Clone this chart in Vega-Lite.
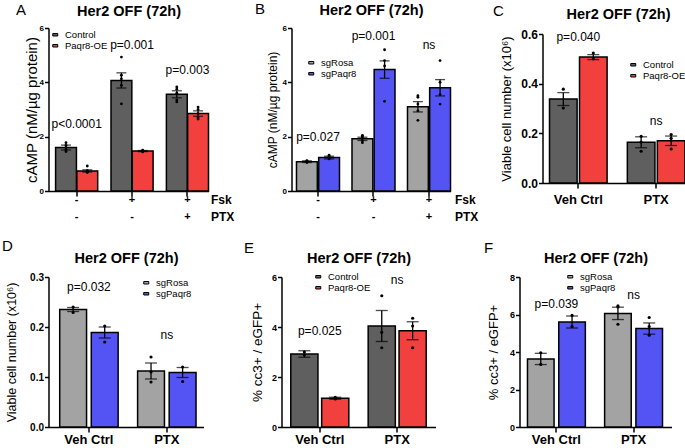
{
"$schema": "https://vega.github.io/schema/vega-lite/v6.json",
"background": "white",
"padding": {"left": 1.5, "top": 1, "right": 0, "bottom": 0},
"datasets": {
"bars": [
{"panel":"A","group":"-|-","series":"Control","value":1.6,"sem":0.09},
{"panel":"A","group":"-|-","series":"Paqr8-OE","value":0.74,"sem":0.04},
{"panel":"A","group":"+|-","series":"Control","value":4.07,"sem":0.28},
{"panel":"A","group":"+|-","series":"Paqr8-OE","value":1.47,"sem":0.02},
{"panel":"A","group":"+|+","series":"Control","value":3.56,"sem":0.13},
{"panel":"A","group":"+|+","series":"Paqr8-OE","value":2.85,"sem":0.1},
{"panel":"B","group":"-|-","series":"sgRosa","value":1.08,"sem":0.03},
{"panel":"B","group":"-|-","series":"sgPaqr8","value":1.23,"sem":0.05},
{"panel":"B","group":"+|-","series":"sgRosa","value":1.92,"sem":0.06},
{"panel":"B","group":"+|-","series":"sgPaqr8","value":4.47,"sem":0.32},
{"panel":"B","group":"+|+","series":"sgRosa","value":3.1,"sem":0.19},
{"panel":"B","group":"+|+","series":"sgPaqr8","value":3.8,"sem":0.3},
{"panel":"C","group":"Veh Ctrl","series":"Control","value":0.338,"sem":0.026},
{"panel":"C","group":"Veh Ctrl","series":"Paqr8-OE","value":0.507,"sem":0.01},
{"panel":"C","group":"PTX","series":"Control","value":0.164,"sem":0.022},
{"panel":"C","group":"PTX","series":"Paqr8-OE","value":0.17,"sem":0.019},
{"panel":"D","group":"Veh Ctrl","series":"sgRosa","value":0.235,"sem":0.004},
{"panel":"D","group":"Veh Ctrl","series":"sgPaqr8","value":0.189,"sem":0.011},
{"panel":"D","group":"PTX","series":"sgRosa","value":0.112,"sem":0.016},
{"panel":"D","group":"PTX","series":"sgPaqr8","value":0.109,"sem":0.01},
{"panel":"E","group":"Veh Ctrl","series":"Control","value":2.92,"sem":0.13},
{"panel":"E","group":"Veh Ctrl","series":"Paqr8-OE","value":1.15,"sem":0.04},
{"panel":"E","group":"PTX","series":"Control","value":4.04,"sem":0.62},
{"panel":"E","group":"PTX","series":"Paqr8-OE","value":3.85,"sem":0.36},
{"panel":"F","group":"Veh Ctrl","series":"sgRosa","value":3.63,"sem":0.3},
{"panel":"F","group":"Veh Ctrl","series":"sgPaqr8","value":5.6,"sem":0.32},
{"panel":"F","group":"PTX","series":"sgRosa","value":6.06,"sem":0.33},
{"panel":"F","group":"PTX","series":"sgPaqr8","value":5.25,"sem":0.3}
],
"points": [
{"panel":"A","group":"-|-","series":"Control","value":1.45},
{"panel":"A","group":"-|-","series":"Control","value":1.52},
{"panel":"A","group":"-|-","series":"Control","value":1.6},
{"panel":"A","group":"-|-","series":"Control","value":1.68},
{"panel":"A","group":"-|-","series":"Control","value":1.78},
{"panel":"A","group":"-|-","series":"Paqr8-OE","value":0.68},
{"panel":"A","group":"-|-","series":"Paqr8-OE","value":0.7},
{"panel":"A","group":"-|-","series":"Paqr8-OE","value":0.72},
{"panel":"A","group":"-|-","series":"Paqr8-OE","value":0.75},
{"panel":"A","group":"-|-","series":"Paqr8-OE","value":0.92},
{"panel":"A","group":"+|-","series":"Control","value":4.93},
{"panel":"A","group":"+|-","series":"Control","value":4.26},
{"panel":"A","group":"+|-","series":"Control","value":4.13},
{"panel":"A","group":"+|-","series":"Control","value":3.89},
{"panel":"A","group":"+|-","series":"Control","value":3.21},
{"panel":"A","group":"+|-","series":"Paqr8-OE","value":1.44},
{"panel":"A","group":"+|-","series":"Paqr8-OE","value":1.46},
{"panel":"A","group":"+|-","series":"Paqr8-OE","value":1.48},
{"panel":"A","group":"+|-","series":"Paqr8-OE","value":1.5},
{"panel":"A","group":"+|+","series":"Control","value":3.83},
{"panel":"A","group":"+|+","series":"Control","value":3.75},
{"panel":"A","group":"+|+","series":"Control","value":3.6},
{"panel":"A","group":"+|+","series":"Control","value":3.35},
{"panel":"A","group":"+|+","series":"Control","value":3.28},
{"panel":"A","group":"+|+","series":"Paqr8-OE","value":3.09},
{"panel":"A","group":"+|+","series":"Paqr8-OE","value":3.0},
{"panel":"A","group":"+|+","series":"Paqr8-OE","value":2.85},
{"panel":"A","group":"+|+","series":"Paqr8-OE","value":2.7},
{"panel":"A","group":"+|+","series":"Paqr8-OE","value":2.65},
{"panel":"B","group":"-|-","series":"sgRosa","value":1.05},
{"panel":"B","group":"-|-","series":"sgRosa","value":1.07},
{"panel":"B","group":"-|-","series":"sgRosa","value":1.1},
{"panel":"B","group":"-|-","series":"sgRosa","value":1.12},
{"panel":"B","group":"-|-","series":"sgPaqr8","value":1.32},
{"panel":"B","group":"-|-","series":"sgPaqr8","value":1.26},
{"panel":"B","group":"-|-","series":"sgPaqr8","value":1.2},
{"panel":"B","group":"-|-","series":"sgPaqr8","value":1.18},
{"panel":"B","group":"+|-","series":"sgRosa","value":2.05},
{"panel":"B","group":"+|-","series":"sgRosa","value":2.0},
{"panel":"B","group":"+|-","series":"sgRosa","value":1.95},
{"panel":"B","group":"+|-","series":"sgRosa","value":1.85},
{"panel":"B","group":"+|-","series":"sgRosa","value":1.78},
{"panel":"B","group":"+|-","series":"sgPaqr8","value":5.2},
{"panel":"B","group":"+|-","series":"sgPaqr8","value":4.8},
{"panel":"B","group":"+|-","series":"sgPaqr8","value":4.6},
{"panel":"B","group":"+|-","series":"sgPaqr8","value":3.3},
{"panel":"B","group":"+|+","series":"sgRosa","value":3.51},
{"panel":"B","group":"+|+","series":"sgRosa","value":3.45},
{"panel":"B","group":"+|+","series":"sgRosa","value":3.2},
{"panel":"B","group":"+|+","series":"sgRosa","value":2.95},
{"panel":"B","group":"+|+","series":"sgRosa","value":2.6},
{"panel":"B","group":"+|+","series":"sgPaqr8","value":4.8},
{"panel":"B","group":"+|+","series":"sgPaqr8","value":4.0},
{"panel":"B","group":"+|+","series":"sgPaqr8","value":3.55},
{"panel":"B","group":"+|+","series":"sgPaqr8","value":3.2},
{"panel":"C","group":"Veh Ctrl","series":"Control","value":0.378},
{"panel":"C","group":"Veh Ctrl","series":"Control","value":0.302},
{"panel":"C","group":"Veh Ctrl","series":"Paqr8-OE","value":0.523},
{"panel":"C","group":"Veh Ctrl","series":"Paqr8-OE","value":0.5},
{"panel":"C","group":"PTX","series":"Control","value":0.188},
{"panel":"C","group":"PTX","series":"Control","value":0.165},
{"panel":"C","group":"PTX","series":"Control","value":0.128},
{"panel":"C","group":"PTX","series":"Paqr8-OE","value":0.195},
{"panel":"C","group":"PTX","series":"Paqr8-OE","value":0.18},
{"panel":"C","group":"PTX","series":"Paqr8-OE","value":0.137},
{"panel":"D","group":"Veh Ctrl","series":"sgRosa","value":0.24},
{"panel":"D","group":"Veh Ctrl","series":"sgRosa","value":0.229},
{"panel":"D","group":"Veh Ctrl","series":"sgPaqr8","value":0.202},
{"panel":"D","group":"Veh Ctrl","series":"sgPaqr8","value":0.17},
{"panel":"D","group":"PTX","series":"sgRosa","value":0.14},
{"panel":"D","group":"PTX","series":"sgRosa","value":0.11},
{"panel":"D","group":"PTX","series":"sgRosa","value":0.09},
{"panel":"D","group":"PTX","series":"sgPaqr8","value":0.12},
{"panel":"D","group":"PTX","series":"sgPaqr8","value":0.091},
{"panel":"E","group":"Veh Ctrl","series":"Control","value":3.0},
{"panel":"E","group":"Veh Ctrl","series":"Control","value":2.88},
{"panel":"E","group":"Veh Ctrl","series":"Paqr8-OE","value":1.19},
{"panel":"E","group":"Veh Ctrl","series":"Paqr8-OE","value":1.12},
{"panel":"E","group":"PTX","series":"Control","value":5.25},
{"panel":"E","group":"PTX","series":"Control","value":3.79},
{"panel":"E","group":"PTX","series":"Control","value":3.17},
{"panel":"E","group":"PTX","series":"Paqr8-OE","value":4.35},
{"panel":"E","group":"PTX","series":"Paqr8-OE","value":4.04},
{"panel":"E","group":"PTX","series":"Paqr8-OE","value":3.17},
{"panel":"F","group":"Veh Ctrl","series":"sgRosa","value":3.96},
{"panel":"F","group":"Veh Ctrl","series":"sgRosa","value":3.34},
{"panel":"F","group":"Veh Ctrl","series":"sgPaqr8","value":5.95},
{"panel":"F","group":"Veh Ctrl","series":"sgPaqr8","value":5.37},
{"panel":"F","group":"PTX","series":"sgRosa","value":6.46},
{"panel":"F","group":"PTX","series":"sgRosa","value":6.4},
{"panel":"F","group":"PTX","series":"sgRosa","value":5.48},
{"panel":"F","group":"PTX","series":"sgPaqr8","value":5.84},
{"panel":"F","group":"PTX","series":"sgPaqr8","value":5.36},
{"panel":"F","group":"PTX","series":"sgPaqr8","value":4.9}
],
"notes": [
{"panel":"A","group":"-|-","label":"p<0.0001","value":2.45},
{"panel":"A","group":"+|-","label":"p=0.001","value":5.36},
{"panel":"A","group":"+|+","label":"p=0.003","value":4.44},
{"panel":"B","group":"-|-","label":"p=0.027","value":1.98},
{"panel":"B","group":"+|-","label":"p=0.001","value":5.69},
{"panel":"B","group":"+|+","label":"ns","value":5.39},
{"panel":"C","group":"Veh Ctrl","label":"p=0.040","value":0.588},
{"panel":"C","group":"PTX","label":"ns","value":0.248},
{"panel":"D","group":"Veh Ctrl","label":"p=0.032","value":0.281},
{"panel":"D","group":"PTX","label":"ns","value":0.185},
{"panel":"E","group":"Veh Ctrl","label":"p=0.025","value":3.84},
{"panel":"E","group":"PTX","label":"ns","value":5.89},
{"panel":"F","group":"Veh Ctrl","label":"p=0.039","value":6.57},
{"panel":"F","group":"PTX","label":"ns","value":7.05}
]
},
"config": {
"font": "Liberation Sans",
"view": {"stroke": null},
"axis": {"domainColor": "black", "domainWidth": 1.5, "tickColor": "black", "tickWidth": 1.5, "tickSize": 4, "labelColor": "black", "labelFont": "Liberation Sans", "labelFontWeight": "bold", "labelFontSize": 11, "labelPadding": 1, "titleFont": "Liberation Sans", "titleFontWeight": "normal", "titleFontSize": 14, "titleColor": "black", "grid": false},
"axisX": {"labelAngle": 0, "labelFontSize": 13, "tickSize": 5},
"legend": {"orient": "none", "title": null, "symbolType": "M-1,-0.5H1V0.5H-1Z", "symbolSize": 25, "symbolStrokeColor": "black", "symbolStrokeWidth": 1, "symbolOpacity": 1, "labelFont": "Liberation Sans", "labelFontSize": 9.5, "labelColor": "black", "rowPadding": 0, "labelOffset": 5},
"text": {"font": "Liberation Sans", "fontSize": 12, "color": "black"}
},
"resolve": {"scale": {"color": "independent", "xOffset": "independent", "x": "independent", "y": "independent"}, "legend": {"color": "independent"}},
"spacing": 15,
"vconcat": [
{
"resolve": {"scale": {"color": "independent", "xOffset": "independent", "x": "independent", "y": "independent"}, "legend": {"color": "independent"}},
"spacing": 20,
"hconcat": [
{
"width": 160, "height": 163,
"resolve": {"axis": {"x": "independent", "y": "independent"}},
"encoding": {
"x": {"field": "group", "type": "nominal", "sort": ["-|-", "+|-", "+|+"], "scale": {"paddingInner": 0.24, "paddingOuter": 0.064, "align": 1}, "axis": null},
"y": {"field": "value", "type": "quantitative", "scale": {"domain": [0, 6], "nice": false}, "axis": null}
},
"layer": [
{"data": {"name": "bars"}, "transform": [{"filter": "datum.panel === 'A'"}], "mark": {"type": "bar", "stroke": "black", "strokeWidth": 1.5},
 "encoding": {
  "x": {"field": "group", "type": "nominal", "sort": ["-|-", "+|-", "+|+"], "scale": {"paddingInner": 0.24, "paddingOuter": 0.064, "align": 1}, "axis": {"orient": "bottom", "labelExpr": "split(datum.value, '|')", "labelLineHeight": 17, "labelFontSize": 11, "labelPadding": -2.5, "title": ["Fsk", "PTX"], "titleX": 162, "titleY": 3.4, "titleAlign": "left", "titleBaseline": "top", "titleAngle": 0, "titleFontWeight": "bold", "titleFontSize": 12, "titleLineHeight": 17}},
  "y": {"field": "value", "type": "quantitative", "scale": {"domain": [0, 6], "nice": false}, "axis": {"orient": "left", "values": [0, 2, 4, 6], "labelFontSize": 8, "title": "cAMP (nM/µg protein)", "titleFontSize": 15, "titlePadding": 0}},
  "xOffset": {"field": "series", "type": "nominal", "sort": ["Control", "Paqr8-OE"], "scale": {"paddingInner": 0.02}},
  "color": {"field": "series", "type": "nominal", "scale": {"domain": ["Control", "Paqr8-OE"], "range": ["#5f5f5f", "#f2403f"]}, "legend": {"orient": "top-left", "offset": 2, "padding": 0}}}},
{"data": {"name": "bars"}, "transform": [{"filter": "datum.panel === 'A'"}], "mark": {"type": "errorbar", "ticks": {"size": 10, "thickness": 1.3, "color": "black"}, "rule": {"strokeWidth": 1.3, "color": "black"}},
 "encoding": {"xOffset": {"field": "series", "type": "nominal", "sort": ["Control", "Paqr8-OE"], "scale": {"paddingInner": 0.02}}, "yError": {"field": "sem"}}},
{"data": {"name": "points"}, "transform": [{"filter": "datum.panel === 'A'"}], "mark": {"type": "point", "filled": true, "color": "black", "size": 8, "opacity": 1},
 "encoding": {"xOffset": {"field": "series", "type": "nominal", "sort": ["Control", "Paqr8-OE"], "scale": {"paddingInner": 0.02}}}},
{"data": {"name": "notes"}, "transform": [{"filter": "datum.panel === 'A'"}], "mark": {"type": "text"},
 "encoding": {
  "x": {"field": "group", "type": "nominal", "sort": ["-|-", "+|-", "+|+"], "scale": {"paddingInner": 0.24, "paddingOuter": 0.064, "align": 1}, "axis": {"orient": "top", "title": "Her2 OFF (72h)", "labels": false, "ticks": false, "domain": false, "titleFontSize": 14.5, "titleFontWeight": "bold", "titlePadding": 9.7}},
  "y": {"field": "value", "type": "quantitative", "scale": {"domain": [0, 6], "nice": false}, "axis": {"orient": "right", "title": "A", "labels": false, "ticks": false, "domain": false, "titleAngle": 0, "titleX": -193, "titleY": -14, "titleAlign": "left", "titleBaseline": "alphabetic", "titleFontSize": 15, "titleFontWeight": "normal"}},
  "text": {"field": "label"}}}
]
},
{
"resolve": {"scale": {"color": "independent", "xOffset": "independent", "x": "independent", "y": "independent"}, "legend": {"color": "independent"}},
"spacing": 14,
"hconcat": [
{
"width": 159, "height": 163,
"resolve": {"axis": {"x": "independent", "y": "independent"}},
"encoding": {
"x": {"field": "group", "type": "nominal", "sort": ["-|-", "+|-", "+|+"], "scale": {"paddingInner": 0.225, "paddingOuter": 0.045, "align": 1}, "axis": null},
"y": {"field": "value", "type": "quantitative", "scale": {"domain": [0, 6], "nice": false}, "axis": null}
},
"layer": [
{"data": {"name": "bars"}, "transform": [{"filter": "datum.panel === 'B'"}], "mark": {"type": "bar", "stroke": "black", "strokeWidth": 1.5},
 "encoding": {
  "x": {"field": "group", "type": "nominal", "sort": ["-|-", "+|-", "+|+"], "scale": {"paddingInner": 0.225, "paddingOuter": 0.045, "align": 1}, "axis": {"orient": "bottom", "labelExpr": "split(datum.value, '|')", "labelLineHeight": 17, "labelFontSize": 11, "labelPadding": -2.5, "title": ["Fsk", "PTX"], "titleX": 163, "titleY": 3.4, "titleAlign": "left", "titleBaseline": "top", "titleAngle": 0, "titleFontWeight": "bold", "titleFontSize": 12, "titleLineHeight": 17}},
  "y": {"field": "value", "type": "quantitative", "scale": {"domain": [0, 6], "nice": false}, "axis": {"orient": "left", "values": [0, 2, 4, 6], "labelFontSize": 8, "title": "cAMP (nM/µg protein)", "titleFontSize": 12, "titlePadding": 2.7}},
  "xOffset": {"field": "series", "type": "nominal", "sort": ["sgRosa", "sgPaqr8"], "scale": {"paddingInner": 0.06}},
  "color": {"field": "series", "type": "nominal", "scale": {"domain": ["sgRosa", "sgPaqr8"], "range": ["#a3a3a3", "#5454f4"]}, "legend": {"legendX": 15, "legendY": 30}}}},
{"data": {"name": "bars"}, "transform": [{"filter": "datum.panel === 'B'"}], "mark": {"type": "errorbar", "ticks": {"size": 10, "thickness": 1.3, "color": "black"}, "rule": {"strokeWidth": 1.3, "color": "black"}},
 "encoding": {"xOffset": {"field": "series", "type": "nominal", "sort": ["sgRosa", "sgPaqr8"], "scale": {"paddingInner": 0.06}}, "yError": {"field": "sem"}}},
{"data": {"name": "points"}, "transform": [{"filter": "datum.panel === 'B'"}], "mark": {"type": "point", "filled": true, "color": "black", "size": 8, "opacity": 1},
 "encoding": {"xOffset": {"field": "series", "type": "nominal", "sort": ["sgRosa", "sgPaqr8"], "scale": {"paddingInner": 0.06}}}},
{"data": {"name": "notes"}, "transform": [{"filter": "datum.panel === 'B'"}], "mark": {"type": "text"},
 "encoding": {
  "x": {"field": "group", "type": "nominal", "sort": ["-|-", "+|-", "+|+"], "scale": {"paddingInner": 0.225, "paddingOuter": 0.045, "align": 1}, "axis": {"orient": "top", "title": "Her2 OFF (72h)", "labels": false, "ticks": false, "domain": false, "titleFontSize": 14.5, "titleFontWeight": "bold", "titlePadding": 10.5}},
  "y": {"field": "value", "type": "quantitative", "scale": {"domain": [0, 6], "nice": false}, "axis": {"orient": "right", "title": "B", "labels": false, "ticks": false, "domain": false, "titleAngle": 0, "titleX": -196, "titleY": -15, "titleAlign": "left", "titleBaseline": "alphabetic", "titleFontSize": 15, "titleFontWeight": "normal"}},
  "text": {"field": "label"}}}
]
},
{
"width": 151, "height": 155,
"resolve": {"axis": {"x": "independent", "y": "independent"}},
"encoding": {
"x": {"field": "group", "type": "nominal", "sort": ["Veh Ctrl", "PTX"], "scale": {"paddingInner": 0.26, "paddingOuter": 0.1, "align": 0.45}, "axis": null},
"y": {"field": "value", "type": "quantitative", "scale": {"domain": [0, 0.6], "nice": false, "range": [155, 6]}, "axis": null}
},
"layer": [
{"data": {"name": "bars"}, "transform": [{"filter": "datum.panel === 'C'"}], "mark": {"type": "bar", "stroke": "black", "strokeWidth": 1.5},
 "encoding": {
  "x": {"field": "group", "type": "nominal", "sort": ["Veh Ctrl", "PTX"], "scale": {"paddingInner": 0.26, "paddingOuter": 0.1, "align": 0.45}, "axis": {"orient": "bottom", "title": null, "labelPadding": 5}},
  "y": {"field": "value", "type": "quantitative", "scale": {"domain": [0, 0.6], "nice": false, "range": [155, 6]}, "axis": {"orient": "left", "values": [0, 0.2, 0.4, 0.6], "format": ".1f", "labelFontSize": 12, "title": "Viable cell number (x10⁶)", "titleFontSize": 13, "titlePadding": 6.9}},
  "xOffset": {"field": "series", "type": "nominal", "sort": ["Control", "Paqr8-OE"], "scale": {"paddingInner": 0.08}},
  "color": {"field": "series", "type": "nominal", "scale": {"domain": ["Control", "Paqr8-OE"], "range": ["#5f5f5f", "#f2403f"]}, "legend": {"legendX": 86, "legendY": 32}}}},
{"data": {"name": "bars"}, "transform": [{"filter": "datum.panel === 'C'"}], "mark": {"type": "errorbar", "ticks": {"size": 12, "thickness": 1.3, "color": "black"}, "rule": {"strokeWidth": 1.3, "color": "black"}},
 "encoding": {"xOffset": {"field": "series", "type": "nominal", "sort": ["Control", "Paqr8-OE"], "scale": {"paddingInner": 0.08}}, "yError": {"field": "sem"}}},
{"data": {"name": "points"}, "transform": [{"filter": "datum.panel === 'C'"}], "mark": {"type": "point", "filled": true, "color": "black", "size": 10, "opacity": 1},
 "encoding": {"xOffset": {"field": "series", "type": "nominal", "sort": ["Control", "Paqr8-OE"], "scale": {"paddingInner": 0.08}}}},
{"data": {"name": "notes"}, "transform": [{"filter": "datum.panel === 'C'"}], "mark": {"type": "text"},
 "encoding": {
  "x": {"field": "group", "type": "nominal", "sort": ["Veh Ctrl", "PTX"], "scale": {"paddingInner": 0.26, "paddingOuter": 0.1, "align": 0.45}, "axis": {"orient": "top", "title": "Her2 OFF (72h)", "labels": false, "ticks": false, "domain": false, "titleFontSize": 14.5, "titleFontWeight": "bold", "titlePadding": 6.7}},
  "y": {"field": "value", "type": "quantitative", "scale": {"domain": [0, 0.6], "nice": false, "range": [155, 6]}, "axis": {"orient": "right", "title": "C", "labels": false, "ticks": false, "domain": false, "titleAngle": 0, "titleX": -201, "titleY": -13, "titleAlign": "left", "titleBaseline": "alphabetic", "titleFontSize": 15, "titleFontWeight": "normal"}},
  "text": {"field": "label"}}}
]
}
]
}
]
},
{
"resolve": {"scale": {"color": "independent", "xOffset": "independent", "x": "independent", "y": "independent"}, "legend": {"color": "independent"}},
"spacing": 40,
"hconcat": [
{
"width": 155, "height": 150,
"resolve": {"axis": {"x": "independent", "y": "independent"}},
"encoding": {
"x": {"field": "group", "type": "nominal", "sort": ["Veh Ctrl", "PTX"], "scale": {"paddingInner": 0.25, "paddingOuter": 0.12, "align": 0.6}, "axis": null},
"y": {"field": "value", "type": "quantitative", "scale": {"domain": [0, 0.3], "nice": false}, "axis": null}
},
"layer": [
{"data": {"name": "bars"}, "transform": [{"filter": "datum.panel === 'D'"}], "mark": {"type": "bar", "stroke": "black", "strokeWidth": 1.5},
 "encoding": {
  "x": {"field": "group", "type": "nominal", "sort": ["Veh Ctrl", "PTX"], "scale": {"paddingInner": 0.25, "paddingOuter": 0.12, "align": 0.6}, "axis": {"orient": "bottom", "title": null, "labelPadding": 1}},
  "y": {"field": "value", "type": "quantitative", "scale": {"domain": [0, 0.3], "nice": false}, "axis": {"orient": "left", "values": [0, 0.1, 0.2, 0.3], "format": ".1f", "labelFontSize": 10, "title": "Viable cell number (x10⁶)", "titleFontSize": 12.5, "titlePadding": 11}},
  "xOffset": {"field": "series", "type": "nominal", "sort": ["sgRosa", "sgPaqr8"], "scale": {"paddingInner": 0.15}},
  "color": {"field": "series", "type": "nominal", "scale": {"domain": ["sgRosa", "sgPaqr8"], "range": ["#a3a3a3", "#5454f4"]}, "legend": {"legendX": 93, "legendY": 1}}}},
{"data": {"name": "bars"}, "transform": [{"filter": "datum.panel === 'D'"}], "mark": {"type": "errorbar", "ticks": {"size": 12, "thickness": 1.3, "color": "black"}, "rule": {"strokeWidth": 1.3, "color": "black"}},
 "encoding": {"xOffset": {"field": "series", "type": "nominal", "sort": ["sgRosa", "sgPaqr8"], "scale": {"paddingInner": 0.15}}, "yError": {"field": "sem"}}},
{"data": {"name": "points"}, "transform": [{"filter": "datum.panel === 'D'"}], "mark": {"type": "point", "filled": true, "color": "black", "size": 10, "opacity": 1},
 "encoding": {"xOffset": {"field": "series", "type": "nominal", "sort": ["sgRosa", "sgPaqr8"], "scale": {"paddingInner": 0.15}}}},
{"data": {"name": "notes"}, "transform": [{"filter": "datum.panel === 'D'"}], "mark": {"type": "text"},
 "encoding": {
  "x": {"field": "group", "type": "nominal", "sort": ["Veh Ctrl", "PTX"], "scale": {"paddingInner": 0.25, "paddingOuter": 0.12, "align": 0.6}, "axis": {"orient": "top", "title": "Her2 OFF (72h)", "labels": false, "ticks": false, "domain": false, "titleFontSize": 14.5, "titleFontWeight": "bold", "titlePadding": 11.7}},
  "y": {"field": "value", "type": "quantitative", "scale": {"domain": [0, 0.3], "nice": false}, "axis": {"orient": "right", "title": "D", "labels": false, "ticks": false, "domain": false, "titleAngle": 0, "titleX": -202, "titleY": -27, "titleAlign": "left", "titleBaseline": "alphabetic", "titleFontSize": 15, "titleFontWeight": "normal"}},
  "text": {"field": "label"}}}
]
},
{
"resolve": {"scale": {"color": "independent", "xOffset": "independent", "x": "independent", "y": "independent"}, "legend": {"color": "independent"}},
"spacing": 48,
"hconcat": [
{
"width": 154, "height": 150,
"resolve": {"axis": {"x": "independent", "y": "independent"}},
"encoding": {
"x": {"field": "group", "type": "nominal", "sort": ["Veh Ctrl", "PTX"], "scale": {"paddingInner": 0.25, "paddingOuter": 0.12, "align": 0.5}, "axis": null},
"y": {"field": "value", "type": "quantitative", "scale": {"domain": [0, 6], "nice": false}, "axis": null}
},
"layer": [
{"data": {"name": "bars"}, "transform": [{"filter": "datum.panel === 'E'"}], "mark": {"type": "bar", "stroke": "black", "strokeWidth": 1.5},
 "encoding": {
  "x": {"field": "group", "type": "nominal", "sort": ["Veh Ctrl", "PTX"], "scale": {"paddingInner": 0.25, "paddingOuter": 0.12, "align": 0.5}, "axis": {"orient": "bottom", "title": null, "labelPadding": 1}},
  "y": {"field": "value", "type": "quantitative", "scale": {"domain": [0, 6], "nice": false}, "axis": {"orient": "left", "values": [0, 2, 4, 6], "labelFontSize": 9, "title": "% cc3+ / eGFP+", "titleFontSize": 13.5, "titlePadding": 7.3}},
  "xOffset": {"field": "series", "type": "nominal", "sort": ["Control", "Paqr8-OE"], "scale": {"paddingInner": 0.12}},
  "color": {"field": "series", "type": "nominal", "scale": {"domain": ["Control", "Paqr8-OE"], "range": ["#5f5f5f", "#f2403f"]}, "legend": {"legendX": 32, "legendY": -5}}}},
{"data": {"name": "bars"}, "transform": [{"filter": "datum.panel === 'E'"}], "mark": {"type": "errorbar", "ticks": {"size": 12, "thickness": 1.3, "color": "black"}, "rule": {"strokeWidth": 1.3, "color": "black"}},
 "encoding": {"xOffset": {"field": "series", "type": "nominal", "sort": ["Control", "Paqr8-OE"], "scale": {"paddingInner": 0.12}}, "yError": {"field": "sem"}}},
{"data": {"name": "points"}, "transform": [{"filter": "datum.panel === 'E'"}], "mark": {"type": "point", "filled": true, "color": "black", "size": 10, "opacity": 1},
 "encoding": {"xOffset": {"field": "series", "type": "nominal", "sort": ["Control", "Paqr8-OE"], "scale": {"paddingInner": 0.12}}}},
{"data": {"name": "notes"}, "transform": [{"filter": "datum.panel === 'E'"}], "mark": {"type": "text"},
 "encoding": {
  "x": {"field": "group", "type": "nominal", "sort": ["Veh Ctrl", "PTX"], "scale": {"paddingInner": 0.25, "paddingOuter": 0.12, "align": 0.5}, "axis": {"orient": "top", "title": "Her2 OFF (72h)", "labels": false, "ticks": false, "domain": false, "titleFontSize": 14.5, "titleFontWeight": "bold", "titlePadding": 11.7}},
  "y": {"field": "value", "type": "quantitative", "scale": {"domain": [0, 6], "nice": false}, "axis": {"orient": "right", "title": "E", "labels": false, "ticks": false, "domain": false, "titleAngle": 0, "titleX": -192, "titleY": -25, "titleAlign": "left", "titleBaseline": "alphabetic", "titleFontSize": 15, "titleFontWeight": "normal"}},
  "text": {"field": "label"}}}
]
},
{
"width": 152, "height": 150,
"resolve": {"axis": {"x": "independent", "y": "independent"}},
"encoding": {
"x": {"field": "group", "type": "nominal", "sort": ["Veh Ctrl", "PTX"], "scale": {"paddingInner": 0.25, "paddingOuter": 0.11, "align": 0.47}, "axis": null},
"y": {"field": "value", "type": "quantitative", "scale": {"domain": [0, 8], "nice": false}, "axis": null}
},
"layer": [
{"data": {"name": "bars"}, "transform": [{"filter": "datum.panel === 'F'"}], "mark": {"type": "bar", "stroke": "black", "strokeWidth": 1.5},
 "encoding": {
  "x": {"field": "group", "type": "nominal", "sort": ["Veh Ctrl", "PTX"], "scale": {"paddingInner": 0.25, "paddingOuter": 0.11, "align": 0.47}, "axis": {"orient": "bottom", "title": null, "labelPadding": 1}},
  "y": {"field": "value", "type": "quantitative", "scale": {"domain": [0, 8], "nice": false}, "axis": {"orient": "left", "values": [0, 2, 4, 6, 8], "labelFontSize": 9, "title": "% cc3+ / eGFP+", "titleFontSize": 13, "titlePadding": 8.6}},
  "xOffset": {"field": "series", "type": "nominal", "sort": ["sgRosa", "sgPaqr8"], "scale": {"paddingInner": 0.15}},
  "color": {"field": "series", "type": "nominal", "scale": {"domain": ["sgRosa", "sgPaqr8"], "range": ["#a3a3a3", "#5454f4"]}, "legend": {"legendX": 46, "legendY": -5}}}},
{"data": {"name": "bars"}, "transform": [{"filter": "datum.panel === 'F'"}], "mark": {"type": "errorbar", "ticks": {"size": 12, "thickness": 1.3, "color": "black"}, "rule": {"strokeWidth": 1.3, "color": "black"}},
 "encoding": {"xOffset": {"field": "series", "type": "nominal", "sort": ["sgRosa", "sgPaqr8"], "scale": {"paddingInner": 0.15}}, "yError": {"field": "sem"}}},
{"data": {"name": "points"}, "transform": [{"filter": "datum.panel === 'F'"}], "mark": {"type": "point", "filled": true, "color": "black", "size": 10, "opacity": 1},
 "encoding": {"xOffset": {"field": "series", "type": "nominal", "sort": ["sgRosa", "sgPaqr8"], "scale": {"paddingInner": 0.15}}}},
{"data": {"name": "notes"}, "transform": [{"filter": "datum.panel === 'F'"}], "mark": {"type": "text"},
 "encoding": {
  "x": {"field": "group", "type": "nominal", "sort": ["Veh Ctrl", "PTX"], "scale": {"paddingInner": 0.25, "paddingOuter": 0.11, "align": 0.47}, "axis": {"orient": "top", "title": "Her2 OFF (72h)", "labels": false, "ticks": false, "domain": false, "titleFontSize": 14.5, "titleFontWeight": "bold", "titlePadding": 11.7}},
  "y": {"field": "value", "type": "quantitative", "scale": {"domain": [0, 8], "nice": false}, "axis": {"orient": "right", "title": "F", "labels": false, "ticks": false, "domain": false, "titleAngle": 0, "titleX": -188, "titleY": -25, "titleAlign": "left", "titleBaseline": "alphabetic", "titleFontSize": 15, "titleFontWeight": "normal"}},
  "text": {"field": "label"}}}
]
}
]
}
]
}
]
}
